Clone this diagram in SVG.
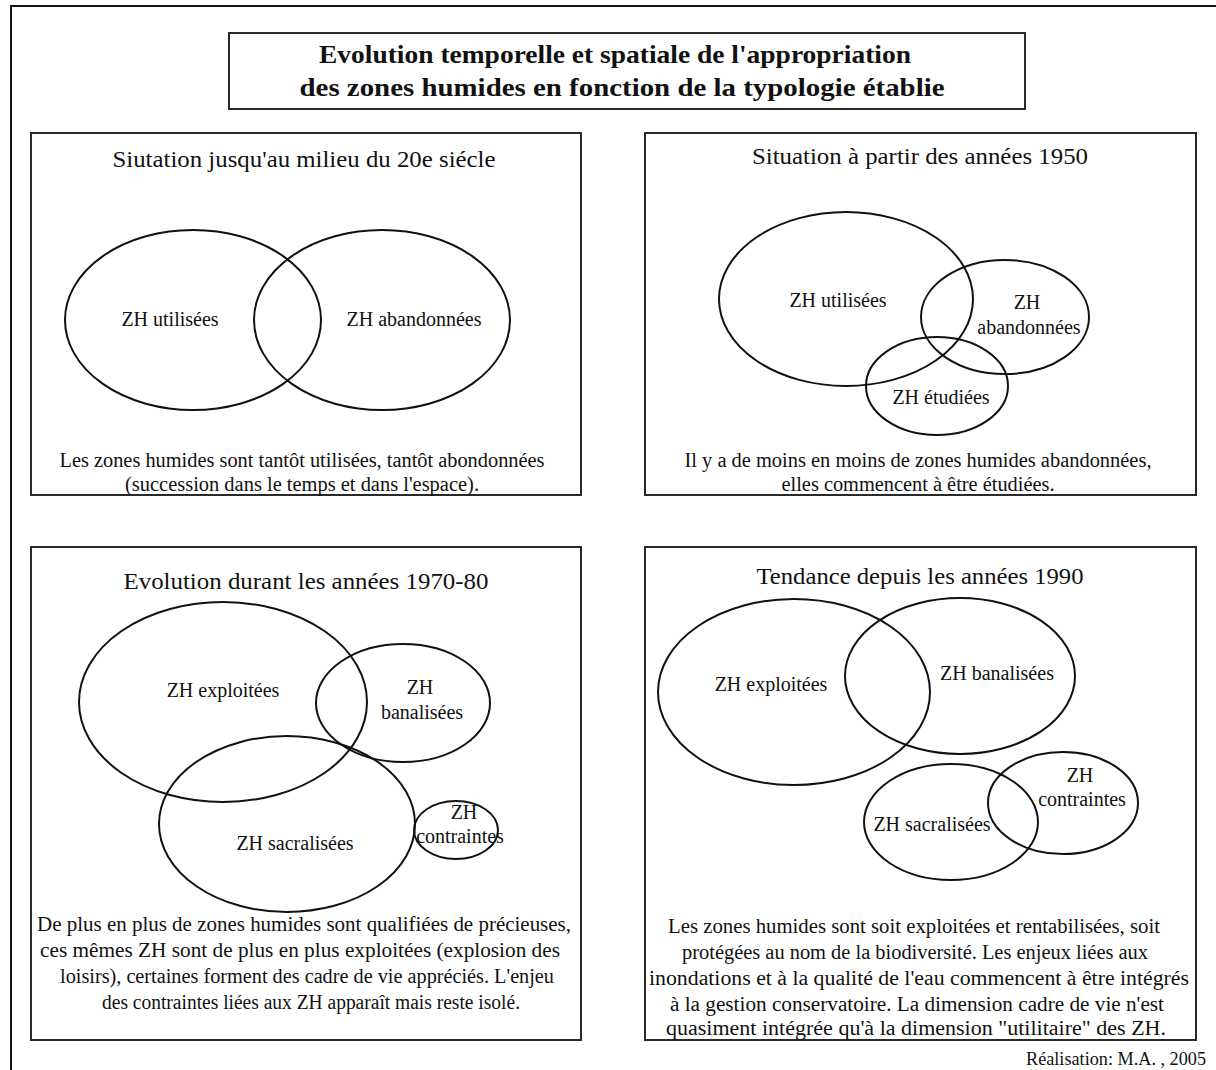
<svg xmlns="http://www.w3.org/2000/svg" width="1216" height="1070" viewBox="0 0 1216 1070">
<style>
.frame{fill:none;stroke:#111;stroke-width:2}
.box{fill:#fff;stroke:#2a2a2a;stroke-width:2}
.ell{fill:none;stroke:#111;stroke-width:2}
text{font-family:"Liberation Serif","Times New Roman",serif;fill:#111}
.ttl{font-size:26px;font-weight:bold;text-anchor:middle}
.ptl{font-size:24px;text-anchor:middle}
.lbl{font-size:20px;text-anchor:middle}
.cap{font-size:20px;text-anchor:middle}
</style>
<rect width="1216" height="1070" fill="#fff"/>
<path class="frame" d="M11,1070 V6 H1216"/>

<g id="title">
<rect class="box" x="229" y="33" width="796" height="76"/>
<text class="ttl" x="615" y="63" textLength="592" lengthAdjust="spacingAndGlyphs">Evolution temporelle et spatiale de l'appropriation</text>
<text class="ttl" x="622" y="96" textLength="645" lengthAdjust="spacingAndGlyphs">des zones humides en fonction de la typologie établie</text>
</g>

<g id="panel1">
<rect class="box" x="31" y="133" width="550" height="362"/>
<text class="ptl" x="304" y="167" textLength="383" lengthAdjust="spacingAndGlyphs">Siutation jusqu'au milieu du 20e siécle</text>
<g id="p1-utilisees"><ellipse class="ell" cx="193" cy="320" rx="128" ry="90"/><text class="lbl" x="170" y="326">ZH utilisées</text></g>
<g id="p1-abandonnees"><ellipse class="ell" cx="382" cy="320" rx="128" ry="90"/><text class="lbl" x="414" y="326">ZH abandonnées</text></g>
<text class="cap" x="302" y="467" textLength="485" lengthAdjust="spacingAndGlyphs">Les zones humides sont tantôt utilisées, tantôt abondonnées</text>
<text class="cap" x="302" y="491" textLength="354" lengthAdjust="spacingAndGlyphs">(succession dans le temps et dans l'espace).</text>
</g>

<g id="panel2">
<rect class="box" x="645" y="133" width="551" height="362"/>
<text class="ptl" x="920" y="164" textLength="336" lengthAdjust="spacingAndGlyphs">Situation à partir des années 1950</text>
<g id="p2-utilisees"><ellipse class="ell" cx="846" cy="299" rx="127" ry="87"/><text class="lbl" x="838" y="307">ZH utilisées</text></g>
<g id="p2-abandonnees"><ellipse class="ell" cx="1005" cy="317" rx="84" ry="57"/><text class="lbl" x="1027" y="309">ZH</text><text class="lbl" x="1029" y="334">abandonnées</text></g>
<g id="p2-etudiees"><ellipse class="ell" cx="937" cy="386" rx="71" ry="49"/><text class="lbl" x="941" y="404">ZH étudiées</text></g>
<text class="cap" x="918" y="467" textLength="467" lengthAdjust="spacingAndGlyphs">Il y a de moins en moins de zones humides abandonnées,</text>
<text class="cap" x="918" y="491" textLength="273" lengthAdjust="spacingAndGlyphs">elles commencent à être étudiées.</text>
</g>

<g id="panel3">
<rect class="box" x="31" y="547" width="550" height="493"/>
<text class="ptl" x="306" y="589" textLength="365" lengthAdjust="spacingAndGlyphs">Evolution durant les années 1970-80</text>
<g id="p3-exploitees"><ellipse class="ell" cx="223" cy="702" rx="144" ry="100"/><text class="lbl" x="223" y="697">ZH exploitées</text></g>
<g id="p3-banalisees"><ellipse class="ell" cx="403" cy="703" rx="87" ry="59"/><text class="lbl" x="420" y="694">ZH</text><text class="lbl" x="422" y="719">banalisées</text></g>
<g id="p3-sacralisees"><ellipse class="ell" cx="287" cy="824" rx="128" ry="88"/><text class="lbl" x="295" y="850">ZH sacralisées</text></g>
<g id="p3-contraintes"><ellipse class="ell" cx="456" cy="830" rx="42" ry="29"/><text class="lbl" x="464" y="819">ZH</text><text class="lbl" x="460" y="843">contraintes</text></g>
<text class="cap" x="304" y="931" textLength="534" lengthAdjust="spacingAndGlyphs">De plus en plus de zones humides sont qualifiées de précieuses,</text>
<text class="cap" x="300" y="957" textLength="520" lengthAdjust="spacingAndGlyphs">ces mêmes ZH sont de plus en plus exploitées  (explosion des</text>
<text class="cap" x="307" y="983" textLength="494" lengthAdjust="spacingAndGlyphs">loisirs), certaines forment des cadre de vie appréciés. L'enjeu</text>
<text class="cap" x="311" y="1009" textLength="418" lengthAdjust="spacingAndGlyphs">des contraintes liées aux ZH apparaît mais reste isolé.</text>
</g>

<g id="panel4">
<rect class="box" x="645" y="547" width="551" height="493"/>
<text class="ptl" x="920" y="584" textLength="327" lengthAdjust="spacingAndGlyphs">Tendance depuis les années 1990</text>
<g id="p4-exploitees"><ellipse class="ell" cx="794" cy="692" rx="136" ry="93"/><text class="lbl" x="771" y="691">ZH exploitées</text></g>
<g id="p4-banalisees"><ellipse class="ell" cx="960" cy="676" rx="115" ry="78"/><text class="lbl" x="997" y="680">ZH banalisées</text></g>
<g id="p4-sacralisees"><ellipse class="ell" cx="951" cy="822" rx="87" ry="58"/><text class="lbl" x="932" y="831">ZH sacralisées</text></g>
<g id="p4-contraintes"><ellipse class="ell" cx="1063" cy="803" rx="75" ry="51"/><text class="lbl" x="1080" y="782">ZH</text><text class="lbl" x="1082" y="806">contraintes</text></g>
<text class="cap" x="914" y="933" textLength="492" lengthAdjust="spacingAndGlyphs">Les zones humides sont soit exploitées et rentabilisées, soit</text>
<text class="cap" x="915" y="959" textLength="466" lengthAdjust="spacingAndGlyphs">protégées au nom de la biodiversité. Les enjeux liées aux</text>
<text class="cap" x="919" y="985" textLength="540" lengthAdjust="spacingAndGlyphs">inondations et à la qualité de l'eau commencent à être intégrés</text>
<text class="cap" x="917" y="1011" textLength="494" lengthAdjust="spacingAndGlyphs">à la gestion conservatoire. La dimension cadre de vie n'est</text>
<text class="cap" x="916" y="1035" textLength="500" lengthAdjust="spacingAndGlyphs">quasiment intégrée qu'à la dimension "utilitaire" des ZH.</text>
</g>

<text id="credit" x="1206" y="1065" font-size="19" text-anchor="end" textLength="180" lengthAdjust="spacingAndGlyphs">Réalisation: M.A. , 2005</text>
</svg>
